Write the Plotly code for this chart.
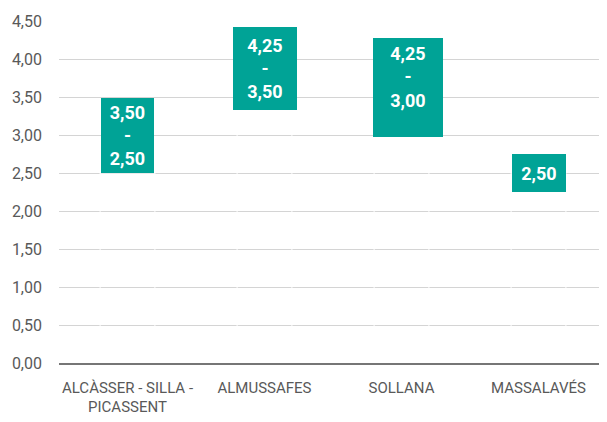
import plotly.graph_objects as go

# ---- data ----
categories = ["ALCÀSSER - SILLA -<br>PICASSENT", "ALMUSSAFES", "SOLLANA", "MASSALAVÉS"]
range_high = [3.50, 4.25, 4.25, 2.50]
range_low = [2.50, 3.50, 3.00, 2.50]
y_ticks = [0, 0.5, 1, 1.5, 2, 2.5, 3, 3.5, 4, 4.5]

# ---- style ----
teal = "#00a396"
label_w = [53, 64, 70, 54]      # px, outer label box sizes as in reference
label_h = [75, 83, 99, 38]
label_pad = [0, 0, 5, 0]
label_xshift = [0, 0, 6, 0]
label_valign = ["middle", "middle", "top", "middle"]
font_fam = "Roboto, Liberation Sans, sans-serif"

fig = go.Figure()

# invisible stacked bars (base part and range part), as in the source chart
fig.add_trace(go.Bar(
    x=categories, y=range_low, width=0.4,
    marker=dict(color="rgba(255,255,255,0)", line=dict(color="white", width=1)),
    hoverinfo="skip", showlegend=False,
))
fig.add_trace(go.Bar(
    x=categories, y=[h - l for h, l in zip(range_high, range_low)], base=range_low, width=0.4,
    marker=dict(color="rgba(255,255,255,0)", line=dict(width=0)),
    hoverinfo="skip", showlegend=False,
))

def fmt(v):
    return f"{v:.2f}".replace(".", ",")

for i, cat in enumerate(categories):
    hi, lo = range_high[i], range_low[i]
    txt = fmt(hi) if hi == lo else f"{fmt(hi)}<br>-<br>{fmt(lo)}"
    p = label_pad[i]
    fig.add_annotation(
        x=cat, y=(hi + lo) / 2, xref="x", yref="y",
        text=txt, showarrow=False,
        width=label_w[i] - 2 * p, height=label_h[i] - 2 * p, xshift=label_xshift[i],
        bgcolor=teal, bordercolor=teal, borderwidth=0, borderpad=p,
        align="center", valign=label_valign[i],
        font=dict(family=font_fam, size=18, color="white", weight="bold"),
    )

fig.update_layout(
    width=599, height=414,
    margin=dict(l=51, r=0, t=13, b=59),
    paper_bgcolor="white", plot_bgcolor="white",
    barmode="overlay",
    separators=",.",
    showlegend=False,
    xaxis=dict(
        type="category", range=[-0.5, 3.5],
        showline=True, linecolor="#767676", linewidth=1.5,
        showgrid=False, ticks="",
        tickfont=dict(family=font_fam, size=15, color="#595959"),
        ticklabelstandoff=10,
    ),
    yaxis=dict(
        range=[0, 4.5], tickvals=y_ticks, tickformat=".2f",
        showgrid=True, gridcolor="#d4d4d4", gridwidth=1.2,
        zeroline=False, showline=False, ticks="",
        tickfont=dict(family=font_fam, size=16, color="#595959"),
        ticklabelstandoff=16,
    ),
)

fig.write_html("out.html")
